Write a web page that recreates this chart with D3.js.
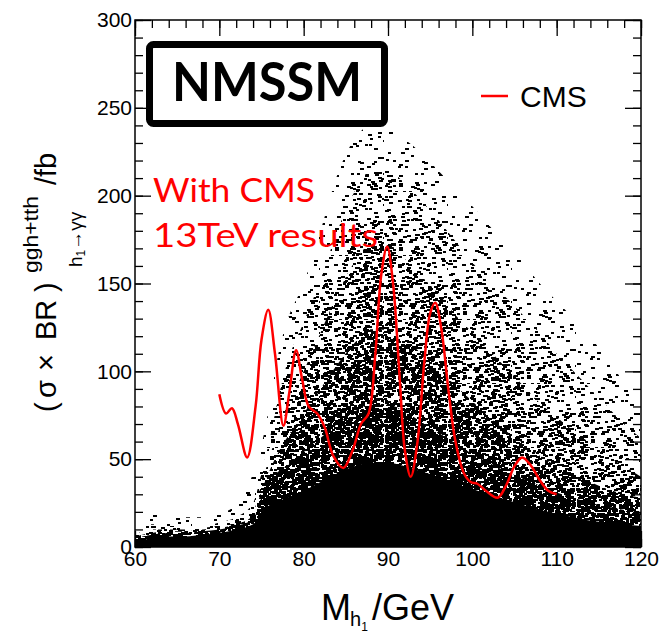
<!DOCTYPE html>
<html>
<head>
<meta charset="UTF-8">
<title>NMSSM h1 to diphoton</title>
<script src="https://cdnjs.cloudflare.com/ajax/libs/d3/7.8.5/d3.min.js"></script>
<style>
body { margin: 0; background: #fff; }
</style>
</head>
<body>
<div id="chart"></div>
<script>
var massX     = [60, 62, 64, 66, 68, 70, 72, 74, 75, 76, 77, 78, 80, 82, 84, 86, 88, 90, 92, 94, 96, 98, 100, 102, 104, 106, 108, 110, 112, 114, 116, 118, 120];
var cloudEdge = [15, 20, 18, 17, 17, 19, 24, 42, 58, 82, 110, 128, 150, 180, 212, 232, 240, 238, 232, 224, 214, 204, 194, 183, 172, 162, 150, 140, 130, 120, 106, 94, 80];
var cloudLight  = [9, 13, 12, 12, 12, 14, 17, 25, 42, 62, 85, 104, 128, 152, 180, 202, 214, 214, 207, 197, 186, 174, 162, 152, 142, 132, 122, 110, 100, 90, 80, 70, 62];
var cloudMedium = [7, 10, 10, 10, 11, 12, 14, 20, 36, 52, 66, 78, 100, 122, 144, 162, 172, 172, 164, 154, 144, 132, 122, 112, 102, 92, 82, 74, 66, 59, 52, 46, 40];
var cloudDense  = [6, 8, 9, 9, 10, 11, 13, 18, 32, 44, 54, 62, 76, 90, 104, 116, 124, 124, 118, 110, 101, 92, 83, 74, 66, 59, 52, 46, 41, 37, 33, 30, 28];
var cloudHeavy  = [5, 7, 8, 8, 9, 10, 12, 16, 28, 38, 43, 46, 54, 62, 70, 77, 81, 81, 77, 71, 65, 59, 53, 48, 43, 39, 35, 31, 28, 25, 23, 21, 19];
var cloudSolid  = [3, 5, 6, 6, 7, 8, 10, 13, 19, 24, 26, 28, 32, 37, 42, 46, 48, 48, 46, 43, 40, 36, 33, 30, 27, 24, 21, 19, 17, 15, 14, 13, 12];

// CMS 13 TeV limit curve
var cmsMass  = [70, 70.8, 71.5, 72.2, 73.3, 74.3, 75.0, 75.8, 76.6, 77.6, 78.3, 79.1, 79.8, 80.6, 81.6, 82.5, 83.5, 84.7, 85.8, 86.8, 87.7, 88.5, 89.2, 89.9, 90.6, 91.4, 92.0, 92.7, 93.5, 94.3, 95.0, 95.6, 96.3, 97.2, 98.0, 99.0, 99.8, 100.6, 101.6, 103.0, 104.0, 105.0, 105.9, 107.0, 108.0, 109.0, 110.0];
var cmsLimit = [87, 76, 79, 70, 51, 80, 118, 135, 110, 69, 88, 112, 96, 80, 76, 68, 52, 45, 55, 70, 76, 110, 155, 171, 150, 95, 55, 40, 60, 105, 133, 139, 125, 88, 60, 42, 37, 36, 32, 28, 35, 46, 51, 46, 38, 32, 30];

var xMajor = [60, 70, 80, 90, 100, 110, 120];
var yMajor = [0, 50, 100, 150, 200, 250, 300];

var width = 661, height = 631;
var x = d3.scaleLinear().domain([60, 120]).range([135, 641]);
var y = d3.scaleLinear().domain([0, 300]).range([547, 20]);

var svg = d3.select("#chart").append("svg")
    .attr("width", width)
    .attr("height", height);

var defs = svg.append("defs");
defs.append("clipPath").attr("id", "plotclip")
    .append("rect")
    .attr("x", 135).attr("y", 20)
    .attr("width", 506).attr("height", 527);

// speckle textures, one per density level
function hash(n) {
    var s = Math.sin(n * 12.9898 + 78.233) * 43758.5453;
    return s - Math.floor(s);
}
var levels = [
    {vals: cloudEdge, dens: 0.1},
    {vals: cloudLight, dens: 0.2},
    {vals: cloudMedium, dens: 0.34},
    {vals: cloudDense, dens: 0.5},
    {vals: cloudHeavy, dens: 0.7}
];
var tile = 64;
levels.forEach(function(lv, k) {
    var p = defs.append("pattern")
        .attr("id", "speck" + k)
        .attr("patternUnits", "userSpaceOnUse")
        .attr("width", tile).attr("height", tile);
    var n = Math.round(lv.dens * tile * tile / 7);
    for (var i = 0; i < n; i++) {
        var j = i + 1 + k * 1013;
        p.append("rect")
            .attr("x", Math.floor(hash(j) * tile))
            .attr("y", Math.floor(hash(j + 0.5) * tile))
            .attr("width", hash(j + 0.25) < 0.5 ? 3 : 4).attr("height", 2)
            .attr("fill", "#000");
    }
});

var cloud = svg.append("g").attr("clip-path", "url(#plotclip)");

function cloudArea(vals) {
    return d3.area()
        .x(function(d, i) { return x(massX[i]); })
        .y0(y(0))
        .y1(function(d) { return y(d); })
        .curve(d3.curveMonotoneX)(vals);
}

levels.forEach(function(lv, k) {
    cloud.append("path")
        .attr("d", cloudArea(lv.vals))
        .attr("fill", "url(#speck" + k + ")");
});
cloud.append("path")
    .attr("d", cloudArea(cloudSolid))
    .attr("fill", "#000");

// axes, ticks inside on all four sides
var tickFont = "'Liberation Sans', Arial, sans-serif";
function styleAxis(g) {
    g.select(".domain").remove();
    g.selectAll("line").attr("stroke", "#000").attr("stroke-width", 1.3);
    g.selectAll("text").attr("font-family", tickFont).attr("font-size", 21).attr("fill", "#000");
}
var xMinor = d3.range(60, 121, 2), yMinor = d3.range(0, 301, 10);

svg.append("g").attr("transform", "translate(0,547)")
    .call(d3.axisBottom(x).tickValues(xMinor).tickSize(-8).tickFormat("")).call(styleAxis);
svg.append("g").attr("transform", "translate(0,547)")
    .call(d3.axisBottom(x).tickValues(xMajor).tickSize(-16).tickPadding(4).tickFormat(d3.format("d"))).call(styleAxis);
svg.append("g").attr("transform", "translate(0,20)")
    .call(d3.axisTop(x).tickValues(xMinor).tickSize(-8).tickFormat("")).call(styleAxis);
svg.append("g").attr("transform", "translate(0,20)")
    .call(d3.axisTop(x).tickValues(xMajor).tickSize(-16).tickFormat("")).call(styleAxis);
svg.append("g").attr("transform", "translate(135,0)")
    .call(d3.axisLeft(y).tickValues(yMinor).tickSize(-8).tickFormat("")).call(styleAxis);
svg.append("g").attr("transform", "translate(135,0)")
    .call(d3.axisLeft(y).tickValues(yMajor).tickSize(-16).tickPadding(3).tickFormat(d3.format("d"))).call(styleAxis);
svg.append("g").attr("transform", "translate(641,0)")
    .call(d3.axisRight(y).tickValues(yMinor).tickSize(-8).tickFormat("")).call(styleAxis);
svg.append("g").attr("transform", "translate(641,0)")
    .call(d3.axisRight(y).tickValues(yMajor).tickSize(-16).tickFormat("")).call(styleAxis);

svg.append("rect")
    .attr("x", 135).attr("y", 20)
    .attr("width", 506).attr("height", 527)
    .attr("fill", "none").attr("stroke", "#000").attr("stroke-width", 1.5);

// CMS curve
var line = d3.line()
    .x(function(d, i) { return x(cmsMass[i]); })
    .y(function(d) { return y(d); })
    .curve(d3.curveCatmullRom.alpha(0.5));
svg.append("path")
    .attr("d", line(cmsLimit))
    .attr("fill", "none")
    .attr("stroke", "#ff0000")
    .attr("stroke-width", 2.5);

// NMSSM box
svg.append("rect")
    .attr("x", 149.5).attr("y", 44.5)
    .attr("width", 235).attr("height", 79)
    .attr("rx", 4)
    .attr("fill", "#fff").attr("stroke", "#000").attr("stroke-width", 7);
svg.append("text")
    .attr("x", 172).attr("y", 101)
    .attr("font-family", "Lato, 'Open Sans', sans-serif")
    .attr("font-weight", "bold").attr("font-size", 53)
    .attr("textLength", 190).attr("lengthAdjust", "spacingAndGlyphs")
    .text("NMSSM");

// legend
svg.append("line")
    .attr("x1", 481).attr("x2", 508).attr("y1", 96).attr("y2", 96)
    .attr("stroke", "#ff0000").attr("stroke-width", 2.5);
svg.append("text")
    .attr("x", 520).attr("y", 107)
    .attr("font-family", tickFont).attr("font-size", 30)
    .text("CMS");

// red note
var note = svg.append("g")
    .attr("font-family", "Lato, 'Open Sans', sans-serif")
    .attr("font-size", 33).attr("fill", "#ff0000");
note.append("text").attr("x", 153).attr("y", 202)
    .attr("textLength", 162).attr("lengthAdjust", "spacingAndGlyphs")
    .text("With CMS");
note.append("text").attr("x", 153).attr("y", 247)
    .attr("textLength", 225).attr("lengthAdjust", "spacingAndGlyphs")
    .text("13TeV results");

// x title
var xt = svg.append("text")
    .attr("font-family", tickFont).attr("fill", "#000");
xt.append("tspan").attr("x", 321).attr("y", 620).attr("font-size", 36).text("M");
xt.append("tspan").attr("x", 350).attr("y", 626).attr("font-size", 20).text("h");
xt.append("tspan").attr("y", 631).attr("font-size", 12).text("1");
xt.append("tspan").attr("x", 372).attr("y", 620).attr("font-size", 36).text("/GeV");

// y title
var yt = svg.append("g")
    .attr("transform", "translate(56,417) rotate(-90)")
    .attr("font-family", tickFont).attr("fill", "#000");
var mainParts = [
    {s: "(", at: 5}, {s: "\u03c3", at: 19}, {s: "\u00d7", at: 46},
    {s: "BR", at: 77}, {s: ")", at: 125}
];
mainParts.forEach(function(p) {
    yt.append("text").attr("x", p.at).attr("y", 0).attr("font-size", 29).text(p.s);
});
yt.append("text").attr("x", 144).attr("y", -18).attr("font-size", 21)
    .attr("textLength", 77).attr("lengthAdjust", "spacingAndGlyphs")
    .text("ggh+tth");
var sub = yt.append("text").attr("x", 150).attr("y", 26).attr("font-size", 19);
sub.append("tspan").text("h");
sub.append("tspan").attr("font-size", 12).attr("dy", 3).text("1");
sub.append("tspan").attr("dy", -3).text("\u2192\u03b3\u03b3");
yt.append("text").attr("x", 232).attr("y", 0).attr("font-size", 29).text("/fb");
</script>
</body>
</html>
